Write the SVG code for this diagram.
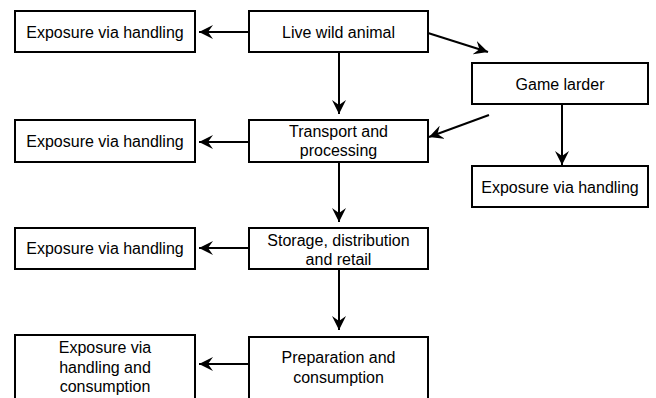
<svg xmlns="http://www.w3.org/2000/svg" width="656" height="398" viewBox="0 0 656 398">
<style>
.box{fill:#fff;stroke:#000;stroke-width:2}
.lbl{font-family:"Liberation Sans",Arial,sans-serif;font-size:16px;fill:#000;text-anchor:middle}
.con{stroke:#000;stroke-width:2;fill:none;marker-end:url(#ah)}
</style>
<defs>
<marker id="ah" markerUnits="userSpaceOnUse" markerWidth="16" markerHeight="14" refX="14" refY="7" orient="auto" viewBox="0 0 16 14">
<path d="M0,0 L14,7 L0,14 L5,7 Z" fill="#000"/>
</marker>
</defs>
<rect width="656" height="398" fill="#fff"/>
<g id="connectors">
<line class="con" x1="249" y1="32" x2="199" y2="32"/>
<line class="con" x1="428" y1="33" x2="488" y2="52"/>
<line class="con" x1="339" y1="52" x2="339" y2="114"/>
<line class="con" x1="489" y1="115" x2="429" y2="137"/>
<line class="con" x1="562" y1="104" x2="562" y2="165"/>
<line class="con" x1="249" y1="142" x2="199" y2="142"/>
<line class="con" x1="339" y1="162" x2="339" y2="222"/>
<line class="con" x1="249" y1="248" x2="199" y2="248"/>
<line class="con" x1="339" y1="269" x2="339" y2="330"/>
<line class="con" x1="249" y1="364" x2="199" y2="364"/>
</g>
<g id="exposure1"><rect class="box" x="15" y="11" width="180" height="41"/><text class="lbl" x="105" y="38">Exposure via handling</text></g>
<g id="live"><rect class="box" x="249" y="11" width="179" height="41"/><text class="lbl" x="338.5" y="38">Live wild animal</text></g>
<g id="larder"><rect class="box" x="472" y="63" width="176" height="41"/><text class="lbl" x="560" y="90">Game larder</text></g>
<g id="exposure2"><rect class="box" x="15" y="120" width="180" height="42"/><text class="lbl" x="105" y="147">Exposure via handling</text></g>
<g id="transport"><rect class="box" x="249" y="120" width="179" height="42"/><text class="lbl" x="338.5" y="137">Transport and</text><text class="lbl" x="338.5" y="156">processing</text></g>
<g id="exposureR"><rect class="box" x="472" y="166" width="176" height="41"/><text class="lbl" x="560" y="193">Exposure via handling</text></g>
<g id="exposure3"><rect class="box" x="15" y="228" width="180" height="41"/><text class="lbl" x="105" y="254">Exposure via handling</text></g>
<g id="storage"><rect class="box" x="249" y="228" width="179" height="41"/><text class="lbl" x="338.5" y="246">Storage, distribution</text><text class="lbl" x="338.5" y="265">and retail</text></g>
<g id="exposure4"><rect class="box" x="15" y="335" width="180" height="72"/><text class="lbl" x="105" y="353">Exposure via</text><text class="lbl" x="105" y="373">handling and</text><text class="lbl" x="105" y="392">consumption</text></g>
<g id="prep"><rect class="box" x="249" y="337" width="179" height="70"/><text class="lbl" x="338.5" y="363">Preparation and</text><text class="lbl" x="338.5" y="383">consumption</text></g>
</svg>
